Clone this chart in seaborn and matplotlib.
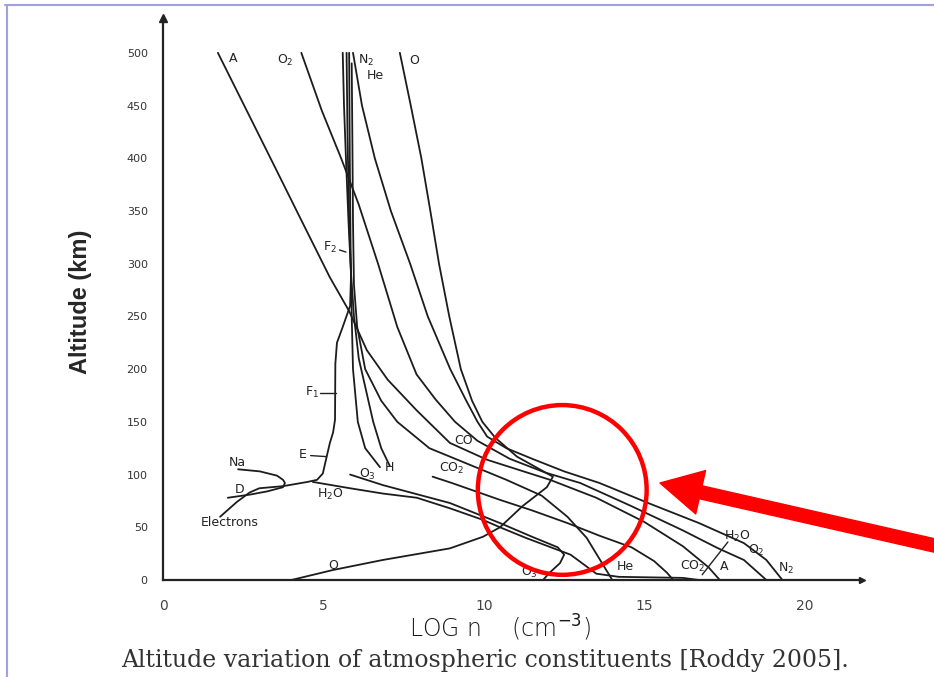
import matplotlib
matplotlib.use('Agg')
import matplotlib.pyplot as plt
import numpy as np
import pandas as pd
import seaborn as sns
from matplotlib.patches import Ellipse
from matplotlib.lines import Line2D

# curves: log10 n (cm^-3) vs altitude (km)
argon_x = [1.71, 2.53, 3.35, 4.33, 5.2, 5.8, 6.35, 7.0, 7.9, 8.94, 10.1, 12.06, 13.5, 15.0, 16.2, 17.0, 17.35]
argon_alt = [500, 450, 400, 340, 287, 255, 218, 190, 161, 130, 114, 95, 78, 55, 32, 12, 0]

o2_x = [4.31, 4.95, 5.55, 6.1, 6.7, 7.3, 7.9, 8.5, 9.1, 9.8, 10.8, 11.9, 13.0, 14.6, 16.2, 17.3, 18.1, 18.8]
o2_alt = [500, 445, 400, 356, 300, 240, 195, 171, 150, 132, 115, 102, 92, 70, 47, 30, 19, 0]

n2_x = [5.92, 6.2, 6.6, 7.1, 7.7, 8.25, 8.95, 9.45, 9.8, 10.1, 10.7, 11.5, 12.5, 13.6, 15.2, 16.7, 18.1, 18.8, 19.3]
n2_alt = [500, 450, 400, 350, 300, 250, 200, 170, 150, 136, 125, 115, 103, 92, 72, 54, 35, 19, 0]

o_x = [7.38, 7.72, 8.05, 8.33, 8.6, 8.92, 9.28, 9.63, 9.95, 10.35, 11.03, 12.15, 11.96, 11.2, 10.5, 9.97, 8.94, 6.85, 5.3, 4.0]
o_alt = [500, 450, 400, 350, 300, 250, 200, 170, 150, 135, 117, 98, 88, 70, 50, 41, 30, 19, 9.5, 0]

he_x = [5.88, 5.9, 5.92, 5.95, 6.05, 6.3, 6.8, 7.3, 8.3, 9.5, 10.7, 11.8, 12.6, 13.2, 13.6, 14.0]
he_alt = [490, 420, 340, 280, 240, 200, 170, 150, 125, 110, 95, 80, 60, 40, 20, 0]

h_x = [5.72, 5.75, 5.8, 5.86, 5.95, 6.1, 6.4, 6.55, 6.8, 7.07]
h_alt = [500, 420, 340, 290, 250, 210, 170, 150, 125, 108]

h2_x = [5.8, 5.82, 5.85, 5.88, 5.92, 6.07, 6.3, 6.76]
h2_alt = [500, 400, 300, 250, 200, 150, 125, 107]

elec_x = [5.6, 5.64, 5.7, 5.78, 5.86, 5.83, 5.6, 5.42, 5.37, 5.36, 5.3, 5.2, 5.1, 4.98, 4.8, 4.5, 3.74, 3.0, 2.7, 2.3, 1.78]
elec_alt = [500, 450, 400, 340, 290, 260, 240, 225, 205, 152, 140, 130, 117, 101, 95, 93, 89, 87, 83, 74, 60]

na_x = [2.34, 3.02, 3.55, 3.74, 3.8, 3.74, 3.24, 2.71, 2.02]
na_alt = [105, 103, 99, 95, 92, 88, 84, 81, 78]

h2o_x = [4.67, 5.83, 6.85, 7.91, 8.94, 9.97, 10.5, 11.3, 12.0, 12.7, 13.1, 13.5, 14.2, 15.2, 16.2, 16.7]
h2o_alt = [93, 87, 82, 78, 68, 57, 50, 40, 32, 24, 15, 6, 3, 2.5, 2, 0]

o3_x = [5.83, 6.85, 8.94, 10.5, 11.5, 12.3, 12.5, 12.37, 12.05, 11.84]
o3_alt = [100, 90, 73, 54, 41, 31, 24, 16, 7, 0]

co2_x = [8.4, 9.0, 10.5, 11.5, 12.6, 13.6, 14.6, 15.3, 15.7, 15.9]
co2_alt = [98, 92, 76, 66, 54, 42, 31, 18, 7, 0]

curves = {
    'A': (argon_x, argon_alt), 'O2': (o2_x, o2_alt), 'N2': (n2_x, n2_alt),
    'O': (o_x, o_alt), 'He': (he_x, he_alt), 'H': (h_x, h_alt), 'H_b': (h2_x, h2_alt),
    'e': (elec_x, elec_alt), 'Na': (na_x, na_alt), 'H2O': (h2o_x, h2o_alt),
    'O3': (o3_x, o3_alt), 'CO2': (co2_x, co2_alt),
}

# curve labels (text, x, alt)
label_text = ['A', 'O$_2$', 'N$_2$', 'He', 'O', 'F$_2$', 'F$_1$', 'E', 'Na', 'D', 'Electrons',
              'H$_2$O', 'O$_3$', 'H', 'CO', 'CO$_2$', 'O', 'O$_3$', 'He', 'CO$_2$', 'A', 'H$_2$O', 'O$_2$', 'N$_2$']
label_x = [2.18, 3.8, 6.32, 6.6, 7.82, 5.2, 4.64, 4.36, 2.3, 2.4, 2.09,
           5.2, 6.36, 7.07, 9.38, 9.0, 5.3, 11.43, 14.4, 16.5, 17.5, 17.9, 18.5, 19.4]
label_alt = [495, 493, 493, 478, 493, 315, 178, 119, 111, 86, 55,
             81, 100, 107, 132, 106, 14, 7.6, 13, 13, 13, 41, 28, 11]

rows = []
for name, (xs, ys) in curves.items():
    for xv, yv in zip(xs, ys):
        rows.append((name, xv, yv))
df = pd.DataFrame(rows, columns=['curve', 'logn', 'alt'])

sns.set_style('white')
plt.rcParams['font.family'] = ['DejaVu Sans']

fig = plt.figure(figsize=(9.34, 6.77), dpi=100)
ax = fig.add_axes([163 / 934, 97 / 677, 699 / 934, 562 / 677])

sns.lineplot(data=df, x='logn', y='alt', units='curve', estimator=None, sort=False,
             color='#1c1c1c', lw=1.3, ax=ax, legend=False)

for t, xv, yv in zip(label_text, label_x, label_alt):
    ax.text(xv, yv, t, fontsize=9, color='#222222', ha='center', va='center')

# pointer ticks next to some labels
ax.plot([5.5, 5.7], [313, 311], color='#222', lw=1)
ax.plot([4.9, 5.4], [177, 177], color='#222', lw=1)
ax.plot([4.6, 5.1], [118, 117], color='#222', lw=1)
ax.plot([17.6, 16.8], [36, 5], color='#222', lw=1)

ax.set_xlim(0, 21.78)
ax.set_ylim(0, 533)
ax.set_xlabel('')
ax.set_ylabel('')
for s in ['top', 'right']:
    ax.spines[s].set_visible(False)
for s in ['left', 'bottom']:
    ax.spines[s].set_linewidth(1.6)
    ax.spines[s].set_color('#222222')

ax.set_xticks(range(0, 21, 5))
ax.set_xticks(range(0, 22), minor=True)
ax.set_yticks(range(0, 501, 50))
ax.tick_params(axis='y', length=9, width=1.2, pad=2, labelsize=8, colors='#333')
ax.tick_params(axis='x', which='both', length=5, width=1, pad=9, labelsize=10, colors='#444')

# axis arrow heads
ax.plot([0], [1], marker='^', ms=6, color='#222', transform=ax.transAxes, clip_on=False)
ax.plot([1], [0], marker='>', ms=5, color='#222', transform=ax.transAxes, clip_on=False)

# red highlight
ax.add_patch(Ellipse((12.44, 85.4), 5.26, 161, fill=False, ec='red', lw=3.2, clip_on=False, zorder=5))
ax.annotate('', xy=(660, 677 - 483), xycoords='figure pixels',
            xytext=(985, 677 - 557), textcoords='figure pixels',
            arrowprops=dict(arrowstyle='simple,head_length=3.0,head_width=3.2,tail_width=0.95',
                            mutation_scale=10, color='red', shrinkA=0, shrinkB=0))

fig.text(80 / 934, 1 - 302 / 677, 'Altitude (km)', rotation=90, ha='center', va='center',
         fontsize=17, fontweight='bold', family=['Liberation Sans', 'DejaVu Sans'])
fig.text(500 / 934, 1 - 628 / 677, 'LOG n    (cm$^{-3}$)', ha='center', va='center',
         fontsize=17, fontweight='light', color='#1a1a1a')
fig.text(485 / 934, 1 - 660 / 677, 'Altitude variation of atmospheric constituents [Roddy 2005].',
         ha='center', va='center', fontsize=17, family=['DejaVu Serif'], color='#333')

# thin frame of the screenshot
fig.add_artist(Line2D([5 / 934, 1], [1 - 5 / 677, 1 - 5 / 677], color='#a0a0e6', lw=1.5))
fig.add_artist(Line2D([7 / 934, 7 / 934], [0, 1 - 5 / 677], color='#a0a0e6', lw=1.5))

fig.savefig('out.png', dpi=100)
